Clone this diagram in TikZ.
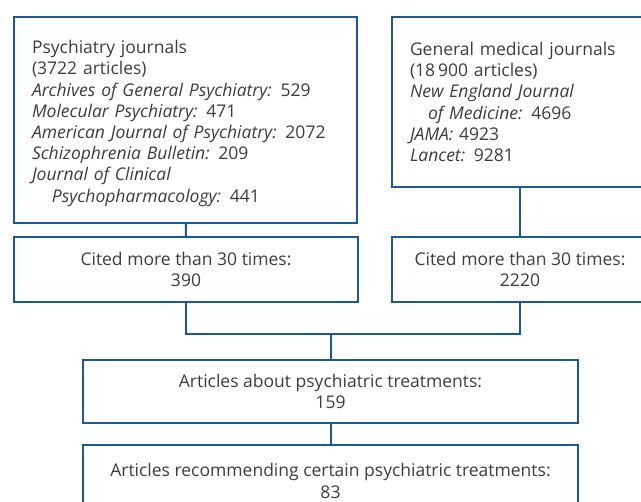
\documentclass[tikz,border=0pt]{standalone}
\usepackage{fontspec}
\setmainfont{Open Sans}
\usepackage{tikz}
\usetikzlibrary{positioning}
\definecolor{flowblue}{RGB}{28, 88, 148}
\definecolor{textgray}{RGB}{60, 60, 60}

\begin{document}
\begin{tikzpicture}[x=1pt, y=-1pt,
  box/.style={draw=flowblue, line width=2pt, text=textgray, font=\fontsize{17.5}{21.2}\selectfont, inner sep=0pt},
  link/.style={draw=flowblue, line width=2pt}]
  \useasboundingbox (0,0) rectangle (641,502);
  \clip (0,0) rectangle (641,502);

  % Sources
  \node[box, minimum width=343pt, minimum height=206pt, text width=307pt, inner xsep=18pt, align=left] (psych) at (185.5, 120) {
    \rule{0pt}{20pt}Psychiatry journals\\
    (3722 articles)\\
    {\itshape Archives of General Psychiatry:} 529\\
    {\itshape Molecular Psychiatry:} 471\\
    {\itshape American Journal of Psychiatry:} 2072\\
    {\itshape Schizophrenia Bulletin:} 209\\
    {\itshape Journal of Clinical}\\
    \hspace*{20pt}{\itshape Psychopharmacology:} 441
  };
  \node[box, minimum width=256pt, minimum height=170pt, text width=220pt, inner xsep=18pt, align=left] (medical) at (520, 102) {
    General medical journals\\
    (18\,900 articles)\\
    {\itshape New England Journal}\\
    \hspace*{18pt}{\itshape of Medicine:} 4696\\
    {\itshape JAMA:} 4923\\
    {\itshape Lancet:} 9281
  };

  % Citation filter
  \node[box, minimum width=344pt, minimum height=65pt, align=center] (citedpsych) at (186, 269.5) {Cited more than 30 times:\\390};
  \node[box, minimum width=256pt, minimum height=65pt, align=center] (citedmed) at (520, 269.5) {Cited more than 30 times:\\2220};

  % Treatment articles
  \node[box, minimum width=495pt, minimum height=63pt, align=center] (treat) at (330.5, 391.5) {Articles about psychiatric treatments:\\159};
  \node[box, minimum width=495pt, minimum height=72pt, align=center] (recommend) at (330.5, 481) {Articles recommending certain psychiatric treatments:\\83};

  \coordinate (merge) at (330.5, 334);

  \draw[link] (psych) -- (citedpsych);
  \draw[link] (medical) -- (citedmed);
  \draw[link] (citedpsych.south) |- (merge) -| (citedmed.south);
  \draw[link] (merge) -- (treat);
  \draw[link] (treat) -- (recommend);
\end{tikzpicture}
\end{document}
